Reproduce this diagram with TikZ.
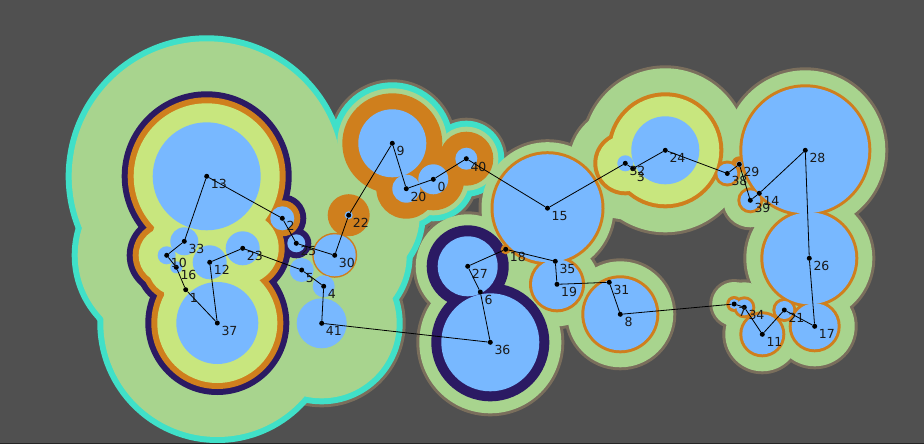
\documentclass[tikz,border=0pt]{standalone}
\usepackage{fontspec}
\setmainfont{DejaVu Sans}
\usetikzlibrary{backgrounds}

\definecolor{fondo}{RGB}{80,80,80}
\definecolor{borde}{RGB}{122,110,92}
\definecolor{cian}{RGB}{64,224,200}
\definecolor{verde}{RGB}{168,212,142}
\definecolor{amarillo}{RGB}{200,230,126}
\definecolor{naranja}{RGB}{207,127,29}
\definecolor{morado}{RGB}{43,26,99}
\definecolor{azul}{RGB}{120,184,255}

\tikzset{
  punto/.style={circle, fill=black, inner sep=0pt, minimum size=5pt},
  etiq/.style={anchor=north west, inner sep=0pt, text=black!90,
    font=\fontsize{12.5}{12.5}\selectfont},
  arista/.style={line width=0.8pt},
}

\begin{document}
\begin{tikzpicture}[x=1pt, y=-1pt]
\useasboundingbox (0,0) rectangle (924,444);

% Vertices
\foreach \n/\x/\y in {0/433.3/179.3, 1/185.7/289.7, 2/282.3/218.3, 3/632.7/168.7,
    4/323.7/286.3, 5/301.7/270, 6/480.3/292, 7/734.2/304, 8/620.3/314.3,
    9/392.3/143.3, 10/166.7/255.3, 11/762.3/334.3, 12/209.7/262.3,
    13/206.7/176.3, 14/759.3/193.3, 15/547.5/208.2, 16/176.3/267.3,
    17/814.7/326.3, 18/505.7/249.3, 19/557/284.3, 20/406.3/188.7,
    21/784.3/310, 22/348.7/215.2, 23/242.7/248.3, 24/665.3/150.3,
    25/296.3/243.3, 26/809.3/258.3, 27/467.7/266.3, 28/805.3/150.3,
    29/739.3/164.3, 30/334.7/255.3, 31/609.3/282.3, 32/625.3/163.3,
    33/184.3/241.3, 34/744.3/307.3, 35/555.3/261.3, 36/490.3/342.3,
    37/217.3/323, 38/727.3/173.5, 39/750.3/200.3, 40/466.3/158.7,
    41/321.7/323.3}
  \node[punto] (v\n) at (\x,\y) {};

\foreach \n in {0,...,41}
  \node[etiq] (l\n) at ([shift={(4,3)}]v\n) {\n};

% Recorrido
\foreach \a/\b in {13/2, 2/25, 25/30, 30/22, 22/9, 9/20, 20/0, 0/40, 40/15,
    15/32, 32/3, 3/24, 24/38, 38/29, 29/39, 39/14, 14/28, 28/26, 26/17,
    17/21, 21/11, 11/34, 34/7, 7/8, 8/31, 31/19, 19/35, 35/18, 18/27,
    27/6, 6/36, 36/41, 41/4, 4/5, 5/23, 23/12, 12/37, 37/1, 1/16,
    16/10, 10/33, 33/13}
  \draw[arista] (v\a) -- (v\b);

% Fosos
\begin{scope}[on background layer]
  \clip (0,0) rectangle (924,444);
  \fill[fondo] (0,0) rectangle (924,444);

  % borde exterior
  \foreach \n/\r in {2/83, 25/74, 5/71, 4/70, 41/84, 30/81, 22/80, 9/64,
      20/44, 0/45, 40/41, 27/55, 6/30, 36/74, 15/69, 18/20, 19/45, 35/21,
      8/56, 31/21, 24/85, 32/59, 3/48, 28/83, 26/66, 17/43, 21/29, 11/40,
      34/28, 7/25, 38/30, 39/30, 29/23, 14/21}
    \fill[borde] (v\n) circle[radius=\r pt];

  \foreach \n/\r in {13/141, 33/100, 10/95, 16/95, 1/90, 37/120, 12/104,
      23/104, 2/80, 25/71, 5/68, 4/67, 41/81, 30/78, 22/77, 9/61, 20/41,
      0/42, 40/38}
    \fill[cian] (v\n) circle[radius=\r pt];

  \foreach \n/\r in {13/135, 33/94, 10/89, 16/89, 1/84, 37/114, 12/98,
      23/98, 2/74, 25/65, 5/62, 4/61, 41/75, 30/72, 22/71, 9/55, 20/35,
      0/36, 40/32, 27/52, 6/27, 36/71, 15/66, 18/17, 19/42, 35/18, 8/53,
      31/18, 24/82, 32/56, 3/45, 28/80, 26/63, 17/40, 21/26, 11/37,
      34/25, 7/22, 38/27, 39/27, 29/20, 14/18}
    \fill[verde] (v\n) circle[radius=\r pt];

  \foreach \n/\r in {13/85, 33/45, 10/40, 16/40, 1/34, 37/72, 12/48,
      23/48, 2/24, 25/15, 27/41, 6/13, 36/59}
    \fill[morado] (v\n) circle[radius=\r pt];

  \foreach \n/\r in {13/79, 33/39, 10/34, 16/34, 1/28, 37/66, 12/42,
      23/42, 2/18, 22/21, 30/22.5, 9/50, 20/30, 0/31, 40/27, 15/57,
      18/5, 19/28, 35/4, 8/39, 31/4, 24/58, 32/32, 3/25, 28/66, 26/49,
      17/26, 21/12, 11/23, 34/11, 7/8, 38/13, 39/13, 29/8, 14/4}
    \fill[naranja] (v\n) circle[radius=\r pt];

  \foreach \n/\r in {13/73, 33/33, 10/28, 16/28, 1/22, 37/60, 12/36,
      23/36, 24/54, 32/28, 3/21}
    \fill[amarillo] (v\n) circle[radius=\r pt];

  \foreach \n/\r in {13/54, 33/14, 10/9, 16/6, 1/2, 37/41, 12/17, 23/17,
      2/12, 25/9, 5/12, 4/11, 41/25, 30/21, 22/4, 9/34, 20/14, 0/15,
      40/11, 27/30, 6/2, 36/49, 15/54, 18/2, 19/25, 35/1, 8/36, 31/1,
      24/34, 32/8, 3/1, 28/63, 26/46, 17/23, 21/9, 11/20, 34/8, 7/5,
      38/10, 39/10, 29/3, 14/1}
    \fill[azul] (v\n) circle[radius=\r pt];

  % linea inferior
  \fill[black!85] (0,442.5) rectangle (924,444);
\end{scope}
\end{tikzpicture}
\end{document}
